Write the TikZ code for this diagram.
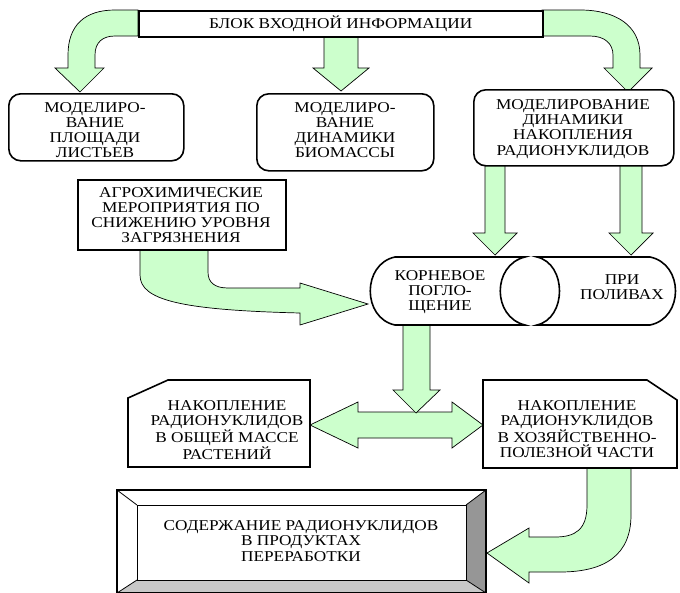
\documentclass[tikz,border=0pt]{standalone}
\usepackage{fontspec}
\setmainfont{Liberation Serif}[FakeStretch=1.15]
\definecolor{lgreen}{RGB}{204,255,204}
\definecolor{bevlight}{RGB}{200,200,200}
\definecolor{bevdark}{RGB}{150,150,150}
\begin{document}
\begin{tikzpicture}[x=1pt,y=-1pt,
  txt/.style={align=center,font=\fontsize{15}{15.2}\selectfont,inner sep=0pt},
  barrow/.style={fill=lgreen,draw=black,line width=0.7pt},
  thickbox/.style={draw=black,fill=white,line width=1.6pt},
  plainbox/.style={thickbox,anchor=north west},
]
\useasboundingbox (0,0) rectangle (680,592);

% ---------- block arrows (drawn first) ----------
% top left curved
\draw[barrow] (138,10) -- (115,10) .. controls (85,10) and (68,25) .. (68,55)
  -- (68,68) -- (55,68) -- (80,92) -- (104,68) -- (95,68) -- (95,55)
  .. controls (95,42) and (103,36) .. (115,36) -- (138,36) -- cycle;
% top middle
\draw[barrow] (324,36) -- (324,68) -- (313,68) -- (341,91) -- (369,68) -- (358,68) -- (358,36) -- cycle;
% top right curved
\draw[barrow] (542,10) -- (580,10) .. controls (615,10) and (640,25) .. (640,55)
  -- (640,68) -- (652,68) -- (628,92) -- (604,68) -- (613,68) -- (613,55)
  .. controls (613,44) and (605,36) .. (590,36) -- (542,36) -- cycle;
% from box3 down
\draw[barrow] (485,165) -- (485,233) -- (473,233) -- (495,255) -- (517,233) -- (505,233) -- (505,165) -- cycle;
\draw[barrow] (620,165) -- (620,233) -- (609,233) -- (631,255) -- (653,233) -- (642,233) -- (642,165) -- cycle;
% from agro box
\draw[barrow] (140,249) -- (140,275) .. controls (140,300) and (180,310) .. (300,313)
  -- (300,325) -- (368,304) -- (300,283) -- (300,288) -- (228,288)
  .. controls (214,288) and (208,282) .. (208,272) -- (208,249) -- cycle;
% double arrow
\draw[barrow] (310,425) -- (358,402) -- (358,412) -- (452,412) -- (452,402) -- (483,425)
  -- (452,448) -- (452,438) -- (358,438) -- (358,448) -- cycle;
% down from cylinder
\draw[barrow] (403,324) -- (403,390) -- (393,390) -- (416,413) -- (440,390) -- (430,390) -- (430,324) -- cycle;
% bottom curved
\draw[barrow] (587,468) -- (587,505) .. controls (587,530) and (575,537) .. (555,537)
  -- (529,537) -- (529,528) -- (487,553) -- (529,583) -- (529,572) -- (560,572)
  .. controls (605,572) and (631,555) .. (631,515) -- (631,468) -- cycle;

% ---------- boxes ----------
\node[plainbox,minimum width=404pt,minimum height=26pt] (top) at (138,10) {};
\node[txt] (topt) at (top.center) {БЛОК ВХОДНОЙ ИНФОРМАЦИИ};
\node[plainbox,rounded corners=12pt,minimum width=175pt,minimum height=67pt] (b1) at (8,93) {};
\node[txt] (b1t) at (95,130) {МОДЕЛИРО-\\ВАНИЕ\\ПЛОЩАДИ\\ЛИСТЬЕВ};
\node[plainbox,rounded corners=12pt,minimum width=177pt,minimum height=77pt] (b2) at (256,93) {};
\node[txt] (b2t) at (345,130) {МОДЕЛИРО-\\ВАНИЕ\\ДИНАМИКИ\\БИОМАССЫ};
\node[plainbox,rounded corners=12pt,minimum width=200pt,minimum height=76pt] (b3) at (473,89) {};
\node[txt] (b3t) at (573,129) {МОДЕЛИРОВАНИЕ\\ДИНАМИКИ\\НАКОПЛЕНИЯ\\РАДИОНУКЛИДОВ};
\node[plainbox,minimum width=208pt,minimum height=70pt] (agro) at (77,179) {};
\node[txt] (agrot) at (181,215) {АГРОХИМИЧЕСКИЕ\\МЕРОПРИЯТИЯ ПО\\СНИЖЕНИЮ УРОВНЯ\\ЗАГРЯЗНЕНИЯ};

% cylinders
\draw[thickbox] (395,257) -- (525,257) .. controls (492,265) and (492,317) .. (525,325)
  -- (395,325) .. controls (362,318) and (362,264) .. (395,257) -- cycle;
\draw[thickbox] (537,257) -- (650,257) .. controls (684,264) and (684,318) .. (650,325)
  -- (537,325) .. controls (567,318) and (567,264) .. (537,257) -- cycle;
\node[txt] (root) at (440,292) {КОРНЕВОЕ\\ПОГЛО-\\ЩЕНИЕ};
\node[txt] (irr) at (622,287) {ПРИ\\ПОЛИВАХ};

% snipped boxes
\draw[thickbox] (168,380) -- (310,380) -- (310,467) -- (128,467) -- (128,398) -- cycle;
\node[txt] (acc1) at (227,430) {НАКОПЛЕНИЕ\\РАДИОНУКЛИДОВ\\В ОБЩЕЙ МАССЕ\\РАСТЕНИЙ};
\draw[thickbox] (483,380) -- (647,380) -- (677,400) -- (677,468) -- (483,468) -- cycle;
\node[txt] (acc2) at (577,429) {НАКОПЛЕНИЕ\\РАДИОНУКЛИДОВ\\В ХОЗЯЙСТВЕННО-\\ПОЛЕЗНОЙ ЧАСТИ};

% bevel box
\fill[white] (117,490) rectangle (486,593);
\fill[bevdark] (486,490) -- (486,593) -- (466,580) -- (466,505) -- cycle;
\fill[bevlight] (117,593) -- (486,593) -- (466,580) -- (137,580) -- cycle;
\draw[line width=1.4pt] (117,490) rectangle (486,593);
\draw[line width=1pt] (137,505) rectangle (466,580);
\draw[line width=0.8pt] (117,490) -- (137,505) (486,490) -- (466,505)
  (117,593) -- (137,580) (486,593) -- (466,580);
\node[txt] (prod) at (301,541) {СОДЕРЖАНИЕ РАДИОНУКЛИДОВ\\В ПРОДУКТАХ\\ПЕРЕРАБОТКИ};
\end{tikzpicture}
\end{document}
